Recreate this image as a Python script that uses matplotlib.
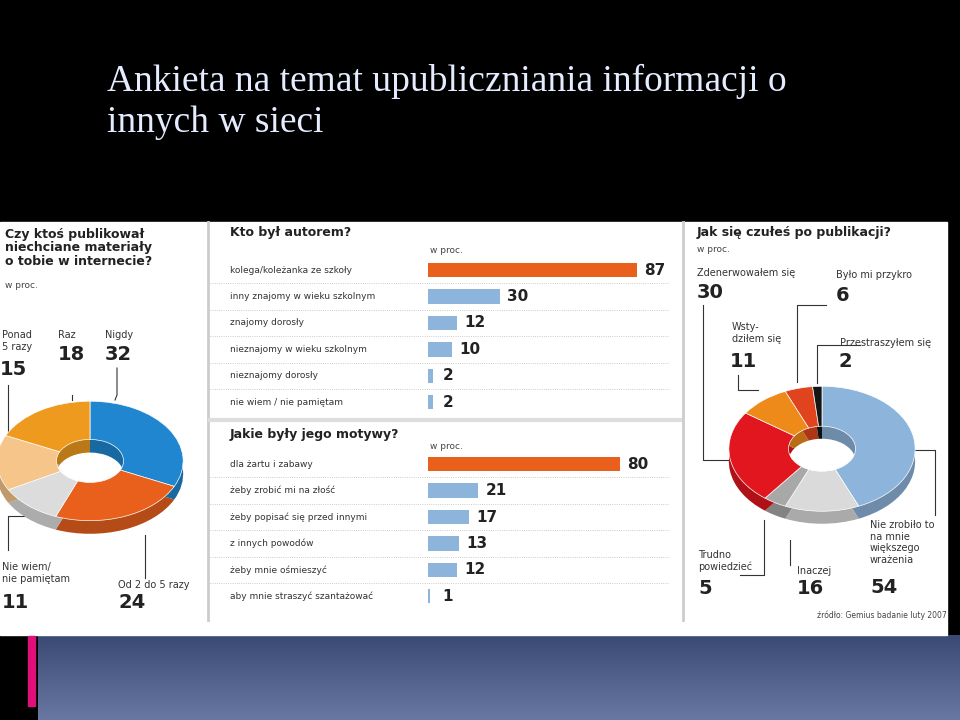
import numpy as np
import matplotlib.pyplot as plt
from matplotlib.colors import to_rgb

# --- data ---
autor_labels = ['kolega/koleżanka ze szkoły', 'inny znajomy w wieku szkolnym', 'znajomy dorosły',
                'nieznajomy w wieku szkolnym', 'nieznajomy dorosły', 'nie wiem / nie pamiętam']
autor_values = [87, 30, 12, 10, 2, 2]
motyw_labels = ['dla żartu i zabawy', 'żeby zrobić mi na złość', 'żeby popisać się przed innymi',
                'z innych powodów', 'żeby mnie ośmieszyć', 'aby mnie straszyć szantażować']
motyw_values = [80, 21, 17, 13, 12, 1]
czy_labels = ['Nigdy', 'Od 2 do 5 razy', 'Nie wiem/\nnie pamiętam', 'Ponad\n5 razy', 'Raz']
czy_values = [32, 24, 11, 15, 18]
czy_colors = ['#1F86CF', '#E8601C', '#DCDCDC', '#F5C58A', '#EE9A1E']
jak_labels = ['Nie zrobiło to\nna mnie\nwiększego\nwrażenia', 'Inaczej', 'Trudno\npowiedzieć',
              'Zdenerwowałem się', 'Wsty-\ndziłem się', 'Było mi przykro', 'Przestraszyłem się']
jak_values = [54, 16, 5, 30, 11, 6, 2]
jak_colors = ['#8DB4DA', '#DADADA', '#A8A8A8', '#E2161E', '#EE8A1A', '#E0441E', '#151515']

W, H = 960, 720
fig = plt.figure(figsize=(9.6, 7.2), dpi=100)
fig.patch.set_facecolor('black')
ov = fig.add_axes([0, 0, 1, 1])
ov.set_xlim(0, W); ov.set_ylim(H, 0); ov.axis('off')

# backgrounds
grad = np.linspace(0, 1, 50)[:, None]
c0, c1 = np.array(to_rgb('#3a4a75')), np.array(to_rgb('#6878a2'))
img = c0 + (c1 - c0) * grad[..., None]
ov.imshow(img, extent=[38, W, 720, 635], aspect='auto', zorder=0)
ov.add_patch(plt.Rectangle((0, 222), 947, 413, color='white', zorder=1))
ov.add_patch(plt.Rectangle((28, 636), 7, 70, color='#E0107A', zorder=1))
ov.plot([208, 208], [222, 620], color='#cccccc', lw=2, zorder=2)
ov.plot([683, 683], [222, 620], color='#cccccc', lw=2, zorder=2)
ov.plot([210, 680], [420, 420], color='#dddddd', lw=3, zorder=2)

ov.text(107, 64, 'Ankieta na temat upubliczniania informacji o\ninnych w sieci', color='#e6ecff',
        fontsize=27, family='Liberation Serif', va='top', linespacing=1.25, zorder=3)

bold = dict(fontweight='bold', color='#222222', zorder=3)
ov.text(5, 228, 'Czy ktoś publikował\nniechciane materiały\no tobie w internecie?', fontsize=9,
        va='top', linespacing=1.05, **bold)
ov.text(5, 281, 'w proc.', fontsize=6.5, color='#444', va='top', zorder=3)
ov.text(230, 226, 'Kto był autorem?', fontsize=9, va='top', **bold)
ov.text(430, 246, 'w proc.', fontsize=6.5, color='#444', va='top', zorder=3)
ov.text(230, 428, 'Jakie były jego motywy?', fontsize=9, va='top', **bold)
ov.text(430, 442, 'w proc.', fontsize=6.5, color='#444', va='top', zorder=3)
ov.text(697, 226, 'Jak się czułeś po publikacji?', fontsize=9, va='top', **bold)
ov.text(697, 245, 'w proc.', fontsize=6.5, color='#444', va='top', zorder=3)
ov.text(947, 618, 'źródło: Gemius badanie luty 2007', fontsize=5.5, color='#444', ha='right', zorder=3)


def bars(top, labels, values):
    ax = fig.add_axes([428 / W, 1 - (top + 6 * 26.4) / H, 240 / W, 6 * 26.4 / H])
    ax.set_xlim(0, 100); ax.set_ylim(5.5, -0.5); ax.axis('off')
    y = np.arange(len(values))
    cols = ['#E8601C' if i == 0 else '#8DB4DA' for i in y]
    ax.barh(y, values, height=0.55, color=cols)
    tr = ax.get_yaxis_transform()
    for i, (lab, v) in enumerate(zip(labels, values)):
        ax.text(max(v, 3) + 3, i, str(v), fontsize=11, fontweight='bold', color='#222', va='center')
        ax.text(-198 / 240, i, lab, transform=tr, fontsize=6.5, color='#333', va='center')
        if i < len(values) - 1:
            ax.plot([-218 / 240, 1.0], [i + 0.5, i + 0.5], transform=tr, color='#bbbbbb',
                    lw=0.6, ls=':', clip_on=False)


bars(257, autor_labels, autor_values)
bars(451, motyw_labels, motyw_values)


def donut(box, values, colors, depth):
    ax = fig.add_axes([box[0] / W, 1 - box[3] / H, (box[2] - box[0]) / W, (box[3] - box[1]) / H])
    dark = [tuple(np.array(to_rgb(c)) * 0.78) for c in colors]
    ax.pie(values, colors=dark, startangle=90, counterclock=False, center=(0, -depth),
           wedgeprops=dict(width=0.64, linewidth=0))
    ax.pie(values, colors=colors, startangle=90, counterclock=False,
           wedgeprops=dict(width=0.64, linewidth=0.5, edgecolor='white'))
    ax.set_aspect('auto'); ax.set_xlim(-1.02, 1.02); ax.set_ylim(-1 - depth - 0.02, 1.02)
    ax.axis('off')


donut((-5, 400, 185, 535), czy_values, czy_colors, 0.22)
donut((727, 385, 917, 525), jak_values, jak_colors, 0.2)

# pie labels
lab_kw = dict(fontsize=7, color='#333', zorder=3, va='top')
num_kw = dict(fontsize=14, fontweight='bold', color='#222', zorder=3, va='top')
czy_pos = [(105, 330), (118, 580), (2, 562), (2, 330), (58, 330)]
czy_num = [(105, 345), (118, 593), (2, 593), (0, 360), (58, 345)]
for lab, v, p, q in zip(czy_labels, czy_values, czy_pos, czy_num):
    ov.text(*p, lab, **lab_kw)
    ov.text(*q, str(v), **num_kw)
jak_pos = [(870, 520), (797, 566), (698, 550), (697, 268), (732, 322), (836, 270), (840, 338)]
jak_num = [(870, 578), (797, 579), (698, 579), (697, 283), (730, 352), (836, 286), (838, 352)]
for lab, v, p, q in zip(jak_labels, jak_values, jak_pos, jak_num):
    ov.text(*p, lab, **lab_kw)
    ov.text(*q, str(v), **num_kw)

# leader lines
lines = [([117, 117, 115], [368, 395, 400]), ([8, 8, 18], [385, 462, 462]),
         ([8, 8, 45], [550, 516, 516]), ([145, 145], [578, 535]),
         ([72, 72], [395, 400]),
         ([703, 703, 735], [305, 460, 460]), ([738, 738, 758], [375, 390, 390]),
         ([826, 797, 797], [305, 305, 382]), ([860, 817, 817], [345, 345, 383]),
         ([913, 935, 935], [450, 450, 515]), ([790, 790], [540, 565]),
         ([764, 764, 740], [520, 575, 575])]
for xs, ys in lines:
    ov.plot(xs, ys, color='#333', lw=0.8, zorder=3)

fig.savefig('out.png', dpi=100, facecolor='black')
